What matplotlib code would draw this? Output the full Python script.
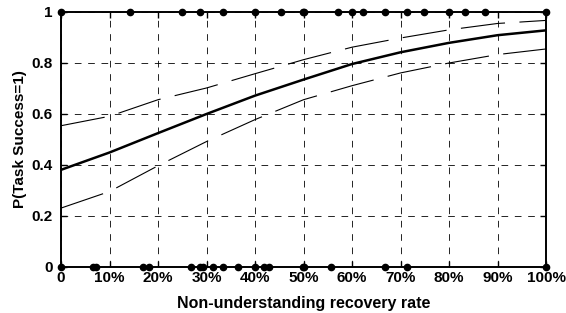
import numpy as np
import matplotlib
matplotlib.use("Agg")
import matplotlib.pyplot as plt

# recovery rate (%) where the curves were read
xs = [0, 10, 20, 30, 40, 50, 60, 70, 80, 90, 100]
p_mean = [0.381, 0.449, 0.525, 0.600, 0.672, 0.735, 0.796, 0.842, 0.879, 0.909, 0.928]
p_upper = [0.554, 0.591, 0.656, 0.702, 0.758, 0.813, 0.862, 0.898, 0.930, 0.955, 0.967]
p_lower = [0.231, 0.296, 0.397, 0.492, 0.578, 0.656, 0.711, 0.761, 0.800, 0.833, 0.855]

# observed sessions
success_x = [0, 14.2, 25, 28.6, 33.3, 39.9, 45.3, 49.8, 50, 57.2, 59.9, 62.3,
             66.7, 71.3, 74.8, 80, 83.2, 87.4, 100]
fail_x = [0, 6.5, 7.3, 16.8, 18.1, 26.8, 28.7, 29.3, 31.3, 33.3, 36.4, 39.9,
          41.9, 42.9, 49.8, 50, 55.7, 66.7, 71.3, 100]

xticks = [0, 10, 20, 30, 40, 50, 60, 70, 80, 90, 100]
xlabels = ["0", "10%", "20%", "30%", "40%", "50%", "60%", "70%", "80%", "90%", "100%"]
yticks = [0, 0.2, 0.4, 0.6, 0.8, 1]
ylabels = ["0", "0.2", "0.4", "0.6", "0.8", "1"]

plt.rcParams["font.family"] = ["Liberation Sans", "DejaVu Sans"]
plt.rcParams["font.weight"] = "bold"

fig = plt.figure(figsize=(5.66, 3.13), dpi=100)
ax = fig.add_axes([0.1078, 0.147, 0.857, 0.8147])

ax.plot(xs, p_mean, color="black", lw=1.8)
ax.plot(xs, p_upper, color="black", lw=0.8, dashes=(40, 13))
ax.plot(xs, p_lower, color="black", lw=0.8, dashes=(40, 13))

ax.plot(success_x, [1] * len(success_x), "o", color="black", ms=4.5, clip_on=False, zorder=5)
ax.plot(fail_x, [0] * len(fail_x), "o", color="black", ms=4.5, clip_on=False, zorder=5)

ax.set_xlim(0, 100)
ax.set_ylim(0, 1)
ax.set_xticks(xticks)
ax.set_xticklabels(xlabels)
ax.set_yticks(yticks)
ax.set_yticklabels(ylabels)
ax.tick_params(direction="in", length=4, width=1, labelsize=11, top=True, right=True)
ax.tick_params(axis="x", pad=3)
ax.tick_params(axis="y", pad=6)
ax.grid(True, color="black", lw=0.6, dashes=(8, 8))
for s in ax.spines.values():
    s.set_linewidth(1.4)

ax.set_xlabel("Non-understanding recovery rate", fontsize=11.5, fontweight="bold", labelpad=8)
ax.set_ylabel("P(Task Success=1)", fontsize=11, fontweight="bold", labelpad=3)

fig.savefig("out.png", dpi=100)
